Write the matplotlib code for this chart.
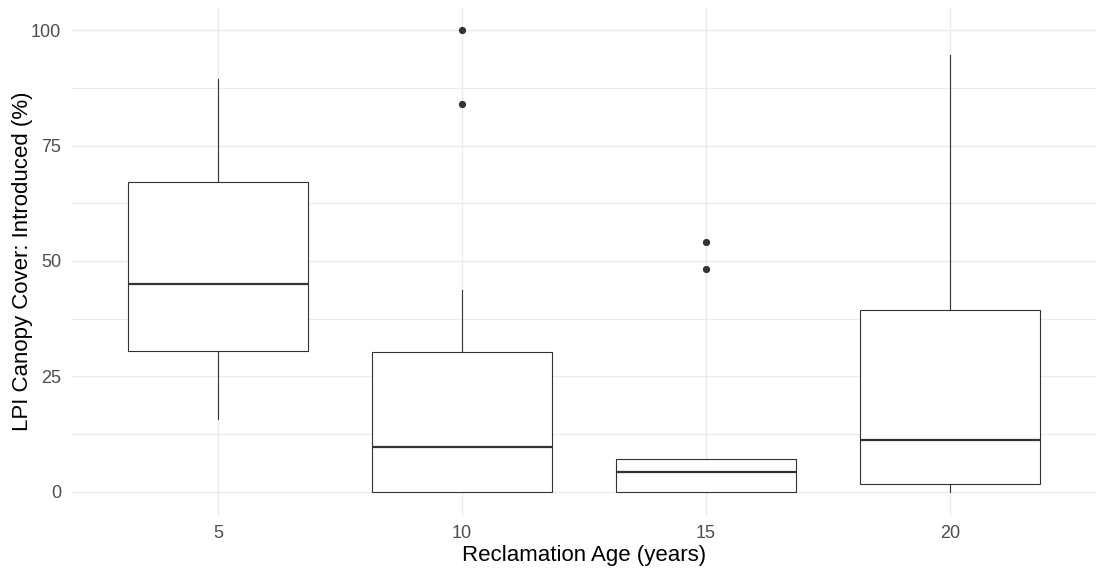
import matplotlib
matplotlib.use("Agg")
import matplotlib.pyplot as plt

# reclamation age groups and box statistics
ages = [5, 10, 15, 20]
whislo = [15.8, 0.0, 0.0, 0.0]
q1 = [30.5, 0.0, 0.0, 1.8]
med = [45.1, 9.8, 4.3, 11.3]
q3 = [67.2, 30.4, 7.1, 39.3]
whishi = [89.4, 43.8, 7.1, 94.6]
fliers = [[], [100.0, 84.0], [54.1, 48.3], []]

plt.rcParams['font.family'] = ['Liberation Sans', 'DejaVu Sans']

stats = []
for i, a in enumerate(ages):
    stats.append({'label': str(a), 'whislo': whislo[i], 'q1': q1[i], 'med': med[i],
                  'q3': q3[i], 'whishi': whishi[i], 'fliers': fliers[i]})

fig = plt.figure(figsize=(11.02, 5.82), dpi=100)
ax = fig.add_axes([0.0644, 0.1151, 0.9311, 0.8729])

ax.bxp(stats, positions=ages, widths=3.7, showcaps=False, patch_artist=True,
       boxprops=dict(facecolor='white', edgecolor='#333333', linewidth=0.8),
       medianprops=dict(color='#333333', linewidth=1.6),
       whiskerprops=dict(color='#333333', linewidth=0.8),
       flierprops=dict(marker='o', markersize=4.2, markerfacecolor='#333333',
                       markeredgecolor='#333333'),
       zorder=3)

ax.set_xlim(1.988, 23.01)
ax.set_ylim(-5, 105)
ax.set_xticks(ages)
ax.set_xticklabels([str(a) for a in ages])
ax.set_yticks([0, 25, 50, 75, 100])
ax.set_yticks([12.5, 37.5, 62.5, 87.5], minor=True)

ax.grid(True, which='major', color='#EBEBEB', linewidth=1.0, zorder=0)
ax.grid(True, which='minor', axis='y', color='#EBEBEB', linewidth=0.8, zorder=0)
ax.set_axisbelow(True)
for s in ax.spines.values():
    s.set_visible(False)
ax.tick_params(which='both', length=0, labelsize=13, labelcolor='#4D4D4D')
ax.tick_params(axis='x', pad=7)
ax.tick_params(axis='y', pad=7)

ax.set_xlabel('Reclamation Age (years)', fontsize=16, color='black', labelpad=2)
ax.set_ylabel('LPI Canopy Cover: Introduced (%)', fontsize=16, color='black')
ax.yaxis.set_label_coords(-0.037, 0.5)

fig.savefig('out.png', dpi=100)
